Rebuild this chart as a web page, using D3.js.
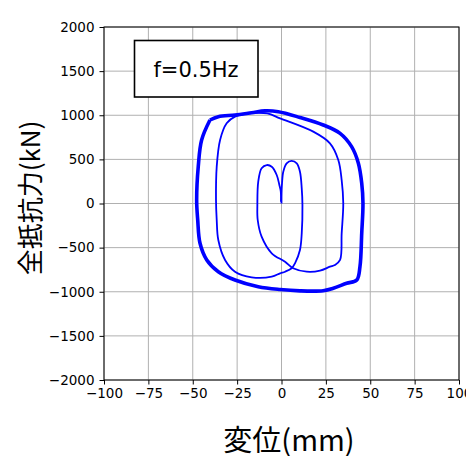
<!DOCTYPE html>
<html>
<head>
<meta charset="utf-8">
<script src="https://cdn.jsdelivr.net/npm/d3@7"></script>
<style>
  body { margin: 0; background: #fff; }
  svg { display: block; }
  .tick text { font-family: "DejaVu Sans", sans-serif; font-size: 13.5px; fill: #000; }
</style>
</head>
<body>
<div id="chart"></div>
<script>
// 軸の目盛り
const xTicks = [-100, -75, -50, -25, 0, 25, 50, 75, 100];
const yTicks = [-2000, -1500, -1000, -500, 0, 500, 1000, 1500, 2000];

// 立ち上がり部 (原点 -> 右ローブ -> 第2ループ)  [変位 mm, 抵抗力 kN]
const rampUp = [
  [0, 0], [0, 80], [0.1, 160], [0.3, 230], [1.0, 360], [2.9, 455], [5.7, 482],
  [8.6, 455], [10.4, 360], [11.4, 172], [11.8, -17], [11.4, -338], [10.4, -527],
  [7.6, -678], [5.7, -734], [2.0, -773], [-0.8, -791], [-5.5, -829], [-16.8, -836],
  [-26.2, -773], [-31.8, -640], [-35.6, -414], [-36.5, -187], [-36.9, 40],
  [-36.5, 417], [-34.6, 720], [-30.9, 909], [-26.2, 985], [-16.8, 1025]
];

// 定常ループ (外側の太い帯)
const steadyLoop = [
  [-40.3, 946], [-35.6, 984], [-26.2, 1003], [-16.8, 1029], [-9.3, 1050],
  [-1.8, 1040], [10.4, 975], [23.5, 890], [33.0, 795], [39.5, 644], [43.3, 456],
  [45.2, 229], [45.9, 6], [45.2, -338], [44.2, -716], [42.4, -867], [36.7, -904],
  [29.2, -961], [23.5, -988], [10.4, -990], [-0.8, -975], [-13.1, -943],
  [-26.2, -867], [-35.6, -773], [-42.1, -640], [-45.9, -451], [-47.2, -187],
  [-47.8, 40], [-46.9, 417], [-45.0, 720], [-40.3, 946]
];

// 減衰部 (内側の上辺 -> 左ローブ -> 原点)
const rampDown = [
  [-16.8, 1025], [-8.0, 1020], [-0.8, 965], [17.9, 814], [27.3, 682], [32.0, 493],
  [33.9, 266], [34.8, 2], [33.9, -338], [33.0, -640], [30.1, -697], [27.3, -716],
  [21.7, -761], [14.2, -773], [6.6, -734], [2.0, -660], [-5.5, -564], [-11.2, -376],
  [-13.4, -187], [-13.6, -17], [-13.1, 247], [-11.2, 399], [-8.3, 436], [-5.5, 417],
  [-2.7, 323], [-1.2, 210], [-0.4, 134], [-0.3, 20]
];

const width = 466, height = 456;
const margin = { top: 27, right: 7, bottom: 76, left: 104 };
const w = width - margin.left - margin.right;
const h = height - margin.top - margin.bottom;

const svg = d3.select("#chart").append("svg")
  .attr("width", width)
  .attr("height", height);

const g = svg.append("g")
  .attr("transform", "translate(" + margin.left + "," + margin.top + ")");

const x = d3.scaleLinear().domain([-100, 100]).range([0, w]);
const y = d3.scaleLinear().domain([-2000, 2000]).range([h, 0]);

// グリッド
g.append("g")
  .selectAll("line")
  .data(xTicks)
  .join("line")
  .attr("x1", d => x(d)).attr("x2", d => x(d))
  .attr("y1", 0).attr("y2", h)
  .attr("stroke", "#b0b0b0").attr("stroke-width", 1);

g.append("g")
  .selectAll("line")
  .data(yTicks)
  .join("line")
  .attr("x1", 0).attr("x2", w)
  .attr("y1", d => y(d)).attr("y2", d => y(d))
  .attr("stroke", "#b0b0b0").attr("stroke-width", 1);

// 曲線
const line = d3.line()
  .x(d => x(d[0]))
  .y(d => y(d[1]))
  .curve(d3.curveCatmullRom.alpha(0.5));

g.append("path").datum(steadyLoop)
  .attr("fill", "none").attr("stroke", "#0000ff")
  .attr("stroke-width", 3.6).attr("stroke-linejoin", "round")
  .attr("d", line);

g.append("path").datum(rampUp)
  .attr("fill", "none").attr("stroke", "#0000ff")
  .attr("stroke-width", 1.8).attr("stroke-linejoin", "round")
  .attr("d", line);

g.append("path").datum(rampDown)
  .attr("fill", "none").attr("stroke", "#0000ff")
  .attr("stroke-width", 1.8).attr("stroke-linejoin", "round")
  .attr("d", line);

// 枠
g.append("rect")
  .attr("width", w).attr("height", h)
  .attr("fill", "none").attr("stroke", "#000").attr("stroke-width", 1);

// 軸
g.append("g")
  .attr("transform", "translate(0," + h + ")")
  .call(d3.axisBottom(x).tickValues(xTicks).tickFormat(d3.format("d"))
    .tickSize(4.5).tickPadding(4).tickSizeOuter(0))
  .call(a => a.select(".domain").remove());

g.append("g")
  .call(d3.axisLeft(y).tickValues(yTicks).tickFormat(d3.format("d"))
    .tickSize(4.5).tickPadding(5).tickSizeOuter(0))
  .call(a => a.select(".domain").remove());

// 周波数ラベル
svg.append("rect")
  .attr("x", 134.5).attr("y", 40.5)
  .attr("width", 123.5).attr("height", 56.5)
  .attr("fill", "#fff").attr("stroke", "#000").attr("stroke-width", 1.6);

svg.append("text")
  .attr("x", 196).attr("y", 77)
  .attr("text-anchor", "middle")
  .style("font-family", "DejaVu Sans, sans-serif")
  .style("font-size", "21px")
  .text("f=0.5Hz");

// 軸ラベル
svg.append("text")
  .attr("x", 289).attr("y", 451)
  .attr("text-anchor", "middle")
  .style("font-family", "Noto Sans CJK JP, sans-serif")
  .style("font-size", "29px")
  .text("変位(mm)");

svg.append("text")
  .attr("transform", "translate(40,198) rotate(-90)")
  .attr("text-anchor", "middle")
  .style("font-family", "Noto Sans CJK JP, sans-serif")
  .style("font-size", "26px")
  .text("全抵抗力(kN)");
</script>
</body>
</html>
